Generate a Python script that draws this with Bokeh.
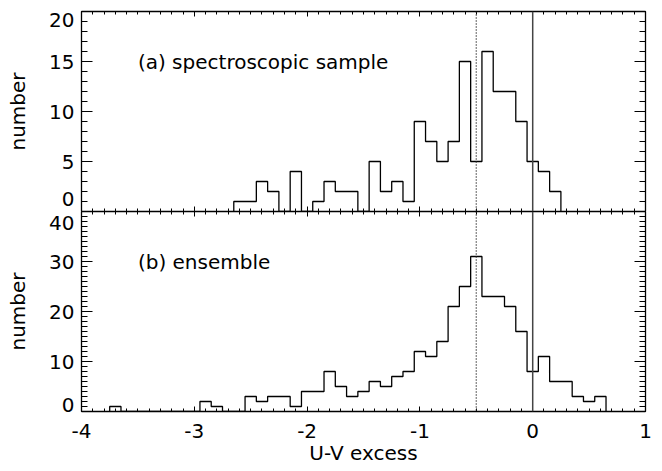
import numpy as np
from bokeh.plotting import figure
from bokeh.layouts import column
from bokeh.models import (Range1d, LinearAxis, SingleIntervalTicker, FixedTicker,
                          Span, Label)
from bokeh.embed import file_html
from bokeh.resources import INLINE

# ---------------- data ----------------
bin_width = 0.1

top_centers = [-2.6, -2.5, -2.4, -2.3, -2.2, -2.1, -2.0, -1.9, -1.8, -1.7,
               -1.6, -1.5, -1.4, -1.3, -1.2, -1.1, -1.0, -0.9, -0.8, -0.7,
               -0.6, -0.5, -0.4, -0.3, -0.2, -0.1, 0.0, 0.1, 0.2]
top_counts = [1, 1, 3, 2, 0, 4, 0, 1, 3, 2,
              2, 0, 5, 2, 3, 1, 9, 7, 5, 7,
              15, 5, 16, 12, 12, 9, 5, 4, 2]

bottom_centers = [-3.7, -3.6, -3.5, -3.4, -3.3, -3.2, -3.1, -3.0, -2.9, -2.8,
                  -2.7, -2.6, -2.5, -2.4, -2.3, -2.2, -2.1, -2.0, -1.9, -1.8,
                  -1.7, -1.6, -1.5, -1.4, -1.3, -1.2, -1.1, -1.0, -0.9, -0.8,
                  -0.7, -0.6, -0.5, -0.4, -0.3, -0.2, -0.1, 0.0, 0.1, 0.2,
                  0.3, 0.4, 0.5, 0.6]
bottom_counts = [1, 0, 0, 0, 0, 0, 0, 0, 2, 1,
                 0, 0, 3, 2, 3, 3, 1, 4, 4, 8,
                 5, 3, 4, 6, 5, 7, 8, 12, 11, 14,
                 21, 25, 31, 23, 23, 21, 16, 8, 11, 6,
                 6, 3, 2, 3]

x_ticks = [-4, -3, -2, -1, 0, 1]
x_tick_labels = ["-4", "-3", "-2", "-1", "0", "1"]
top_y_ticks = [0, 5, 10, 15, 20]
top_y_tick_labels = ["0", "5", "10", "15", "20"]
bottom_y_ticks = [0, 10, 20, 30, 40]
bottom_y_tick_labels = ["0", "10", "20", "30", "40"]

panel_titles = ["(a) spectroscopic sample", "(b) ensemble"]
x_label = "U-V excess"
y_label = "number"
solid_line_x = 0.0
dotted_line_x = -0.5

FONT = "DejaVu Sans"
FS = "20px"
FRAME_H = 200
# screen-pixel nudges of the end tick labels (IDL keeps them inside the axis)
edge_nudge_top = {0: 12.5, 20: -8.0}
edge_nudge_bottom = {0: 6.5, 40: -11.5}


def step_xy(centers, counts, w):
    c = np.asarray(centers, dtype=float)
    n = np.asarray(counts, dtype=float)
    left = c - w / 2.0
    right = c + w / 2.0
    xs = np.empty(2 * len(c) + 2)
    ys = np.empty_like(xs)
    xs[0], ys[0] = left[0], 0.0
    xs[1:-1:2], ys[1:-1:2] = left, n
    xs[2:-1:2], ys[2:-1:2] = right, n
    xs[-1], ys[-1] = right[-1], 0.0
    return xs, ys


def style_axis(ax, major_in, minor_in, blank_ticks=None):
    ax.major_tick_in = major_in
    ax.major_tick_out = 0
    ax.minor_tick_in = minor_in
    ax.minor_tick_out = 0
    ax.axis_line_color = "black"
    ax.axis_line_width = 1.3
    ax.major_tick_line_color = "black"
    ax.minor_tick_line_color = "black"
    ax.major_tick_line_width = 1
    ax.minor_tick_line_width = 1
    ax.major_label_text_font = FONT
    ax.major_label_text_font_size = FS
    ax.major_label_text_color = "black"
    ax.axis_label_text_font = FONT
    ax.axis_label_text_font_size = FS
    ax.axis_label_text_font_style = "normal"
    ax.axis_label_text_color = "black"
    if blank_ticks is not None:
        ax.major_label_overrides = {t: "" for t in blank_ticks}
        ax.major_label_text_font_size = "0px"
        ax.major_label_standoff = 0
        ax.axis_label = None


def make_panel(centers, counts, y_ticks, y_tick_labels, nudge, yint, nminor, title, title_y,
               border_top, border_bottom, show_x_labels):
    ymax = y_ticks[-1]
    px_per_unit = FRAME_H / ymax
    p = figure(frame_width=564, frame_height=FRAME_H,
               x_range=Range1d(-4, 1), y_range=Range1d(0, ymax),
               x_axis_location=None, y_axis_location=None,
               output_backend="svg", toolbar_location=None,
               min_border_left=81, min_border_right=17,
               min_border_top=border_top, min_border_bottom=border_bottom,
               background_fill_color="white", border_fill_color="white")
    p.outline_line_color = None
    p.xgrid.visible = False
    p.ygrid.visible = False

    # left: ticks only (closest to the frame)
    left_ticks = LinearAxis(ticker=SingleIntervalTicker(interval=yint, num_minor_ticks=nminor))
    style_axis(left_ticks, 11, 6, blank_ticks=y_ticks)
    p.add_layout(left_ticks, "left")

    # left: labels only, end labels nudged inward like the reference
    label_pos = [t + nudge.get(t, 0.0) / px_per_unit for t in y_ticks]
    left_labels = LinearAxis(ticker=FixedTicker(ticks=label_pos, minor_ticks=[]))
    style_axis(left_labels, 0, 0)
    left_labels.axis_line_color = None
    left_labels.major_tick_line_color = None
    left_labels.minor_tick_line_color = None
    left_labels.major_label_standoff = 7
    left_labels.major_label_overrides = dict(zip(label_pos, y_tick_labels))
    left_labels.axis_label = y_label
    left_labels.axis_label_standoff = 16
    p.add_layout(left_labels, "left")

    right = LinearAxis(ticker=SingleIntervalTicker(interval=yint, num_minor_ticks=nminor))
    style_axis(right, 11, 6, blank_ticks=y_ticks)
    p.add_layout(right, "right")

    above = LinearAxis(ticker=SingleIntervalTicker(interval=1, num_minor_ticks=10))
    style_axis(above, 5, 3, blank_ticks=x_ticks)
    p.add_layout(above, "above")

    below = LinearAxis(ticker=SingleIntervalTicker(interval=1, num_minor_ticks=10))
    if show_x_labels:
        style_axis(below, 5, 3)
        below.axis_label = x_label
        below.major_label_standoff = 12
        below.axis_label_standoff = 0
        below.major_label_overrides = dict(zip(x_ticks, x_tick_labels))
    else:
        style_axis(below, 5, 3, blank_ticks=x_ticks)
    p.add_layout(below, "below")

    p.add_layout(Span(location=dotted_line_x, dimension="height", line_color="#222222",
                      line_width=1.4, line_dash="1 2"))
    p.add_layout(Span(location=solid_line_x, dimension="height", line_color="#444444",
                      line_width=1.5))

    xs, ys = step_xy(centers, counts, bin_width)
    p.line(xs, ys, line_color="black", line_width=1.3)

    p.add_layout(Label(x=-3.5, y=title_y, text=title, text_align="left",
                       text_baseline="alphabetic", text_font=FONT,
                       text_font_size=FS, text_color="black"))
    return p


p1 = make_panel(top_centers, top_counts, top_y_ticks, top_y_tick_labels, edge_nudge_top,
                5, 5, panel_titles[0], 15, 11, 0, False)
p2 = make_panel(bottom_centers, bottom_counts, bottom_y_ticks, bottom_y_tick_labels,
                edge_nudge_bottom, 10, 10, panel_titles[1], 30, 0, 40, True)

layout = column(p1, p2, spacing=0)
open("out.html", "w").write(file_html(layout, INLINE))
